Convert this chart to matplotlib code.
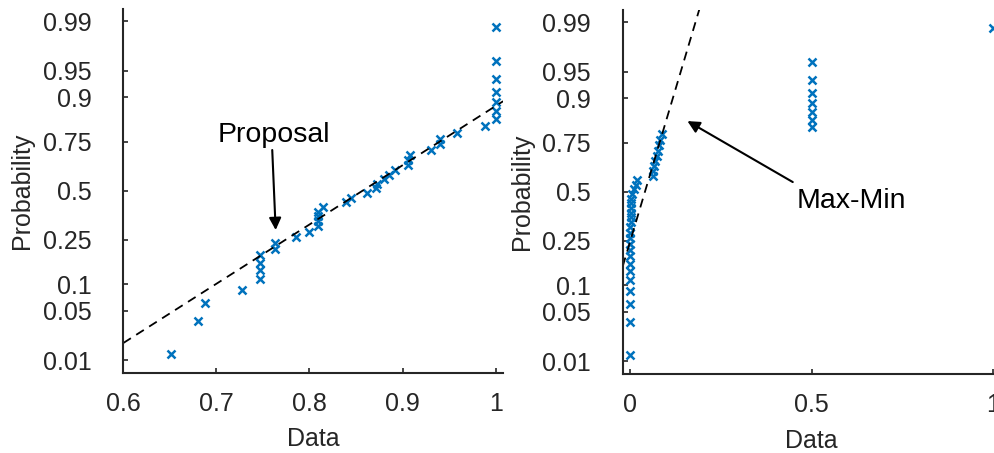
import numpy as np
import matplotlib
matplotlib.use('Agg')
import matplotlib.pyplot as plt
from statistics import NormalDist

plt.rcParams['font.family'] = ['Liberation Sans', 'DejaVu Sans']

# sorted samples
proposal = [0.651, 0.680, 0.688, 0.728, 0.747, 0.747, 0.747, 0.747, 0.763, 0.763,
            0.785, 0.800, 0.809, 0.809, 0.809, 0.809, 0.815, 0.839, 0.845, 0.862,
            0.871, 0.873, 0.880, 0.885, 0.892, 0.906, 0.906, 0.908, 0.931, 0.940,
            0.940, 0.958, 0.988, 1.0, 1.0, 1.0, 1.0, 1.0, 1.0, 1.0]
maxmin = [0.0, 0.0, 0.0, 0.0, 0.0, 0.0, 0.0, 0.0, 0.0, 0.0005,
          0.001, 0.001, 0.001, 0.0015, 0.0015, 0.002, 0.002, 0.0025, 0.003, 0.005,
          0.010, 0.016, 0.019, 0.064, 0.064, 0.066, 0.069, 0.073, 0.077, 0.080,
          0.083, 0.088, 0.5, 0.5, 0.5, 0.5, 0.5, 0.5, 0.5, 1.0]

prob_ticks = [0.01, 0.05, 0.1, 0.25, 0.5, 0.75, 0.9, 0.95, 0.99]
prob_labels = ['0.01', '0.05', '0.1', '0.25', '0.5', '0.75', '0.9', '0.95', '0.99']

nd = NormalDist()
blue = '#0072BD'
grey = '#262626'


def normplot(ax, data, xlim, xticks, xticklabels):
    x = np.sort(np.array(data))
    n = len(x)
    z = np.array([nd.inv_cdf((i - 0.5) / n) for i in range(1, n + 1)])
    ax.plot(x, z, 'x', color=blue, markersize=5.5, mew=1.8)

    # reference line through the quartiles (like matlab normplot)
    q1, q3 = np.percentile(x, [25, 75], method='hazen')
    zq = nd.inv_cdf(0.75)
    slope = 2 * zq / (q3 - q1)
    xx = np.array(xlim)
    ax.plot(xx, -zq + slope * (xx - q1), color='k', lw=1.3, dashes=(5, 3.5))

    zlim = nd.inv_cdf(0.25 / n)
    ax.set_ylim(zlim, -zlim)
    ax.set_xlim(xlim)
    ax.set_yticks([nd.inv_cdf(p) for p in prob_ticks])
    ax.set_yticklabels(prob_labels)
    ax.set_xticks(xticks)
    ax.set_xticklabels(xticklabels)
    for s in ['top', 'right']:
        ax.spines[s].set_visible(False)
    for s in ['left', 'bottom']:
        ax.spines[s].set_linewidth(1.5)
        ax.spines[s].set_color(grey)
    ax.tick_params(direction='in', length=3.5, width=1.2, colors=grey,
                   labelsize=18, labelcolor=grey)
    ax.tick_params(axis='y', pad=23)
    ax.tick_params(axis='x', pad=14)
    ax.set_xlabel('Data', fontsize=18, color=grey, labelpad=8)
    ax.set_ylabel('Probability', fontsize=18, color=grey, labelpad=6)


fig = plt.figure(figsize=(9.94, 4.53), dpi=100)
ax1 = fig.add_axes([0.1240, 0.1768, 0.3822, 0.8044])
ax2 = fig.add_axes([0.6265, 0.1745, 0.3801, 0.8044])

normplot(ax1, proposal, [0.6, 1.008], [0.6, 0.7, 0.8, 0.9, 1.0],
         ['0.6', '0.7', '0.8', '0.9', '1'])
normplot(ax2, maxmin, [-0.02, 1.02], [0, 0.5, 1.0], ['0', '0.5', '1'])

arrow = dict(arrowstyle='-|>', color='k', lw=1.5, mutation_scale=18,
             shrinkA=0, shrinkB=0)
ax1.annotate('', xy=(0.7637, -0.539), xytext=(0.760, 0.558), arrowprops=arrow)
ax1.text(0.762, 0.77, 'Proposal', fontsize=20.5, ha='center', va='center')
ax2.annotate('', xy=(0.158, 0.969), xytext=(0.448, 0.133), arrowprops=arrow)
ax2.text(0.608, -0.13, 'Max-Min', fontsize=20.5, ha='center', va='center')

fig.savefig('out.png', dpi=100)
